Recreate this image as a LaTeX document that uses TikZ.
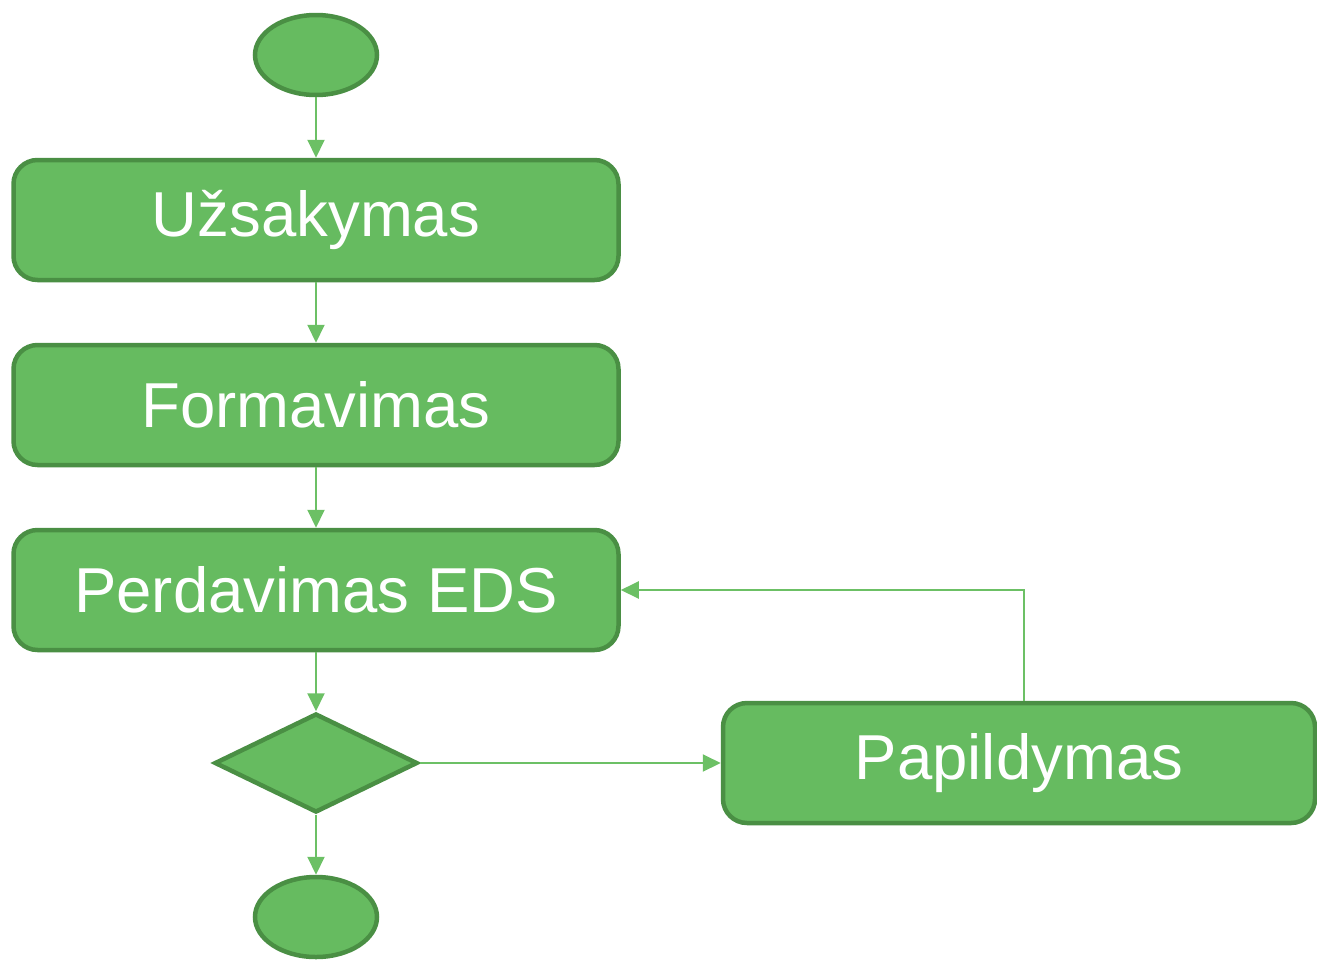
\documentclass[tikz,border=0pt]{standalone}
\usepackage{fontspec}
\setmainfont{Liberation Sans}
\usetikzlibrary{shapes.geometric,arrows.meta}
\definecolor{gfill}{HTML}{66BB60}
\definecolor{gline}{HTML}{4A8F44}
\definecolor{gconn}{HTML}{6CC065}
\begin{document}
\begin{tikzpicture}[x=1pt,y=-1pt,
  stepbox/.style={draw=gline,fill=gfill,line width=4.5pt,rounded corners=24pt,
    minimum width=605pt,minimum height=120pt,inner sep=0pt,text=white,
    font=\fontsize{63.5}{70}\selectfont},
  term/.style={ellipse,draw=gline,fill=gfill,line width=4.5pt,minimum width=122pt,minimum height=80pt,inner sep=0pt},
  decide/.style={diamond,draw=gline,fill=gfill,line width=4.5pt,minimum width=203pt,minimum height=99pt,inner sep=0pt},
  conn/.style={draw=gconn,line width=2pt,-{Triangle[length=18pt,width=17pt]}}]
\useasboundingbox (0,0) rectangle (1317,959);
\node[term] (start) at (316,55) {};
\node[stepbox] (u) at (316,220) {Užsakymas};
\node[stepbox] (f) at (316,405) {Formavimas};
\node[stepbox] (p) at (316,590) {Perdavimas EDS};
\node[decide] (d) at (316,763) {};
\node[term] (end) at (316,917) {};
\node[stepbox,minimum width=592pt] (pap) at (1019,763) {Papildymas};
\coordinate (c) at (1024,590);
\draw[conn] (start) -- (u);
\draw[conn] (u) -- (f);
\draw[conn] (f) -- (p);
\draw[conn] (p) -- (d);
\draw[conn] (d) -- (end);
\draw[conn] (d.east) -- (pap.west);
\draw[conn] (pap.north -| c) -- (c) -- (p.east);
\end{tikzpicture}
\end{document}
